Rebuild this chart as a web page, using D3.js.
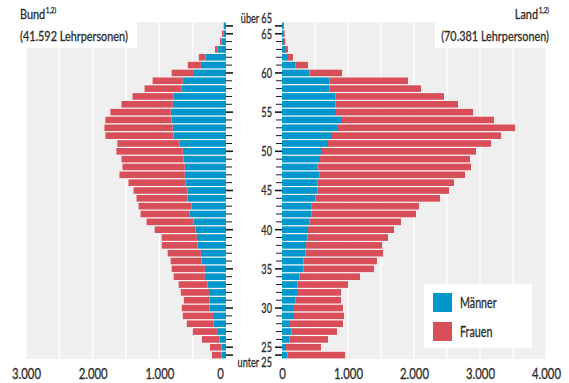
<!DOCTYPE html>
<html>
<head>
<meta charset="utf-8">
<script src="https://cdn.jsdelivr.net/npm/d3@7"></script>
<style>
  body { margin: 0; background: #fff; }
  svg { display: block; font-family: Lato, "DejaVu Sans Condensed", sans-serif; }
  svg text { stroke-width: 0.3px; paint-order: stroke; }
</style>
</head>
<body>
<svg id="chart" width="569" height="383"></svg>
<script>
// Age groups, top (oldest) to bottom (youngest)
const ages = ["über 65", "65", "64", "63", "62", "61", "60", "59", "58", "57", "56",
  "55", "54", "53", "52", "51", "50", "49", "48", "47", "46",
  "45", "44", "43", "42", "41", "40", "39", "38", "37", "36",
  "35", "34", "33", "32", "31", "30", "29", "28", "27", "26",
  "25", "unter 25"];

// Labelled ages on the central axis
const ageLabels = ["über 65", "65", "60", "55", "50", "45", "40", "35", "30", "25", "unter 25"];

// Bund teachers per age group
const bundMaenner = [30, 40, 70, 125, 307, 377, 493, 649, 669, 784, 799, 830, 819, 799, 789,
  699, 649, 638, 618, 618, 608, 578, 578, 518, 548, 488, 457, 437, 427, 377,
  367, 317, 317, 277, 256, 246, 246, 196, 186, 136, 95, 65, 65];
const bundFrauen = [5, 20, 20, 40, 100, 196, 322, 452, 553, 618, 769, 905, 991, 1025, 1020,
  930, 995, 930, 935, 980, 855, 809, 764, 794, 734, 704, 613, 528, 538, 498,
  463, 498, 468, 433, 422, 387, 417, 452, 402, 362, 266, 176, 146];

// Land teachers per age group
const landMaenner = [15, 30, 30, 60, 91, 202, 414, 717, 717, 808, 808, 818, 909, 848, 758,
  697, 606, 576, 535, 566, 535, 535, 505, 444, 444, 414, 394, 384, 364, 354,
  323, 323, 263, 232, 242, 202, 182, 182, 121, 141, 111, 61, 81];
const landFrauen = [15, 10, 20, 30, 76, 192, 495, 1192, 1389, 1646, 1859, 2076, 2303, 2682, 2561,
  2470, 2333, 2273, 2328, 2207, 2071, 1995, 1889, 1631, 1586, 1389, 1303, 1222, 1152, 1177,
  1116, 1071, 919, 768, 652, 692, 742, 758, 803, 692, 586, 530, 874];

const bundTicks = [0, 1000, 2000, 3000];
const landTicks = [0, 1000, 2000, 3000, 4000];
const gridStep = 500;

const titles = {
  bund: { name: "Bund", note: "1,2)", total: "(41.592 Lehrpersonen)" },
  land: { name: "Land", note: "1,2)", total: "(70.381 Lehrpersonen)" }
};
const seriesNames = ["Männer", "Frauen"];

const colors = { m: "#0098cc", f: "#d94f59", bg: "#eeefee", text: "#2b2b2b", tick: "#1a1a1a" };

const de = d3.formatLocale({ decimal: ",", thousands: ".", grouping: [3], currency: ["", " €"] });
const fmt = de.format(",");

const svg = d3.select("#chart");
const plotTop = 22, plotBottom = 359;

const y = d3.scaleBand().domain(ages).range([plotTop, plotBottom]).paddingInner(0.15).paddingOuter(0.075);
const xL = d3.scaleLinear().domain([0, 3000]).range([226, 26]);
const xR = d3.scaleLinear().domain([0, 4000]).range([282, 546]);

// squeeze text horizontally about its anchor x to get a condensed face
function condense(sel, k) {
  sel.each(function () {
    const ax = +(this.getAttribute("x") || 0);
    this.setAttribute("transform", `translate(${ax},0) scale(${k},1) translate(${-ax},0)`);
  });
  return sel;
}
function fitWidth(sel, target) {
  sel.each(function () {
    const w = this.getComputedTextLength();
    condense(d3.select(this), target / w);
  });
  return sel;
}
function inkText(sel) {
  return sel.attr("fill", colors.text).attr("stroke", colors.text);
}

function panel(x, men, women, maxVal) {
  const g = svg.append("g");
  const x0 = x(0), x1 = x(maxVal);
  g.append("rect")
    .attr("x", Math.min(x0, x1)).attr("y", plotTop)
    .attr("width", Math.abs(x1 - x0)).attr("height", plotBottom - plotTop)
    .attr("fill", colors.bg);
  g.selectAll("line.grid")
    .data(d3.range(gridStep, maxVal + 1, gridStep))
    .join("line").attr("class", "grid")
    .attr("x1", d => x(d)).attr("x2", d => x(d))
    .attr("y1", plotTop).attr("y2", plotBottom)
    .attr("stroke", "#fff").attr("stroke-width", 1.2);

  const rows = ages.map((a, i) => ({ age: a, m: men[i], f: women[i] }));
  const gap = y.step() - y.bandwidth();
  const rg = g.selectAll("g.row").data(rows).join("g").attr("class", "row");
  // white separator behind each row
  rg.append("rect")
    .attr("x", d => Math.min(x0, x(d.m + d.f)))
    .attr("y", d => y(d.age) - gap / 2)
    .attr("width", d => Math.abs(x(d.m + d.f) - x0))
    .attr("height", y.step())
    .attr("fill", "#fff");
  rg.append("rect")
    .attr("x", d => Math.min(x0, x(d.m)))
    .attr("y", d => y(d.age))
    .attr("width", d => Math.abs(x(d.m) - x0))
    .attr("height", y.bandwidth())
    .attr("fill", colors.m);
  rg.append("rect")
    .attr("x", d => Math.min(x(d.m), x(d.m + d.f)))
    .attr("y", d => y(d.age))
    .attr("width", d => Math.abs(x(d.m + d.f) - x(d.m)))
    .attr("height", y.bandwidth())
    .attr("fill", colors.f);
  return g;
}

panel(xL, bundMaenner, bundFrauen, 3000);
panel(xR, landMaenner, landFrauen, 4000);

// Title boxes
function titleBox(anchorX, anchor, boxX, t) {
  svg.append("rect").attr("x", boxX).attr("y", plotTop).attr("width", 111).attr("height", 26).attr("fill", "#fff");
  const head = svg.append("text").attr("x", anchorX).attr("y", 19)
    .attr("text-anchor", anchor).style("font-size", "14px");
  inkText(head);
  head.append("tspan").text(t.name);
  head.append("tspan").attr("dx", 0.8).attr("dy", -5.5).style("font-size", "8px").text(t.note);
  condense(head, 0.78);
  const tot = svg.append("text").attr("x", anchorX).attr("y", 41.5)
    .attr("text-anchor", anchor).style("font-size", "14px").text(t.total);
  inkText(tot);
  fitWidth(tot, 108);
}
titleBox(20, "start", 26, titles.bund);
titleBox(549, "end", 435, titles.land);

// Central age axis: ticks on both panels, labels between them
const isMajor = d => ageLabels.includes(d);
const axL = svg.append("g").attr("transform", `translate(${xL(0)},0)`)
  .call(d3.axisRight(y).tickSize(6).tickFormat(""));
const axR = svg.append("g").attr("transform", `translate(${xR(0)},0)`)
  .call(d3.axisLeft(y).tickSize(6).tickPadding(4).tickFormat(d => isMajor(d) ? d : ""));
[axL, axR].forEach(ax => {
  ax.attr("font-family", null).attr("font-size", null);
  ax.select(".domain").remove();
  ax.selectAll(".tick line").attr("stroke", colors.tick)
    .attr("stroke-width", d => isMajor(d) ? 1.6 : 1);
});
axL.selectAll(".tick line").attr("x2", d => isMajor(d) ? 7 : 6);
axR.selectAll(".tick line").attr("x2", d => isMajor(d) ? -7 : -6);
axR.selectAll(".tick text").filter(d => !isMajor(d)).remove();
const ageText = axR.selectAll(".tick text")
  .style("font-size", "13.5px")
  .attr("dy", d => d === "über 65" ? "-0.2em" : d === "unter 25" ? "0.9em" : "0.36em");
inkText(ageText);
condense(ageText, 0.68);

// Value axes below the panels
function valueAxis(x, ticks, zeroShift) {
  const ax = svg.append("g").attr("transform", `translate(0,${plotBottom})`)
    .call(d3.axisBottom(x).tickValues(ticks).tickSize(0).tickPadding(9.5).tickFormat(fmt));
  ax.select(".domain").remove();
  ax.attr("font-family", null).attr("font-size", null);
  const t = ax.selectAll(".tick text").style("font-size", "15.5px")
    .attr("x", d => d === 0 ? zeroShift : 0);
  inkText(t);
  condense(t, 0.73);
  return ax;
}
valueAxis(xL, bundTicks, -6);
valueAxis(xR, landTicks, 0);

// Legend
const lg = svg.append("g").attr("transform", "translate(424,284)");
lg.append("rect").attr("width", 108).attr("height", 64).attr("fill", "#fff");
const items = [{ name: seriesNames[0], c: colors.m }, { name: seriesNames[1], c: colors.f }];
const li = lg.selectAll("g.item").data(items).join("g").attr("class", "item")
  .attr("transform", (d, i) => `translate(9,${9 + i * 29})`);
li.append("rect").attr("width", 19).attr("height", 19).attr("fill", d => d.c);
const legText = li.append("text").attr("x", 27).attr("y", 9.5).attr("dy", "0.36em")
  .style("font-size", "14.5px").text(d => d.name);
inkText(legText);
condense(legText, 0.74);
</script>
</body>
</html>
